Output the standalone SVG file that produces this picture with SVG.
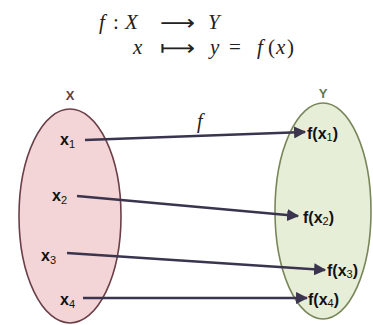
<svg xmlns="http://www.w3.org/2000/svg" width="373" height="325" viewBox="0 0 373 325">
<style>
.m{font-family:"Liberation Serif","DejaVu Serif",serif;font-size:21px;fill:#222}
.mi{font-style:italic}
.ar{font-family:"DejaVu Sans",sans-serif;font-size:21px;fill:#222}
.lb{font-family:"Liberation Sans","Open Sans",sans-serif;font-weight:bold;font-size:16px;fill:#111}
.sub{font-size:11px;font-weight:normal}
.conn{stroke:#3a344e;stroke-width:2.7;fill:none}
</style>
<defs>
<marker id="ah" viewBox="0 0 10 10" refX="9" refY="5" markerWidth="4.5" markerHeight="4.5" orient="auto" markerUnits="strokeWidth">
<path d="M0,0 L10,5 L0,10 Z" fill="#3a344e"/>
</marker>
</defs>
<rect width="373" height="325" fill="#fff"/>
<g id="formula">
<text class="m mi" x="99" y="29">f</text>
<text class="m" x="113" y="29">:</text>
<text class="m mi" x="125" y="29">X</text>
<text class="ar" x="160" y="30" textLength="35" lengthAdjust="spacingAndGlyphs">⟶</text>
<text class="m mi" x="208" y="29">Y</text>
<text class="m mi" x="133" y="54">x</text>
<text class="ar" x="160" y="55" textLength="35" lengthAdjust="spacingAndGlyphs">⟼</text>
<text class="m mi" x="210" y="54">y</text>
<text class="m" x="229" y="54">=</text>
<text class="m mi" x="257" y="54">f</text>
<text class="m" x="268" y="54">(</text>
<text class="m mi" x="276" y="54">x</text>
<text class="m" x="287" y="54">)</text>
</g>
<g id="setX">
<ellipse cx="70" cy="216" rx="51" ry="107" fill="#f3d5d7" stroke="#6b3f48" stroke-width="1.6"/>
<text x="70" y="100" text-anchor="middle" font-family="Liberation Sans, sans-serif" font-weight="bold" font-size="13" fill="#6e3b3b">X</text>
</g>
<g id="setY">
<ellipse cx="323" cy="211" rx="48" ry="108" fill="#e7eed7" stroke="#78875a" stroke-width="1.6"/>
<text x="323" y="98" text-anchor="middle" font-family="Liberation Sans, sans-serif" font-weight="bold" font-size="13" fill="#5f7a4e">Y</text>
</g>
<g id="x1"><text class="lb" x="60" y="145">x<tspan class="sub" dy="3">1</tspan></text></g>
<g id="x2"><text class="lb" x="52" y="201">x<tspan class="sub" dy="3">2</tspan></text></g>
<g id="x3"><text class="lb" x="41" y="261">x<tspan class="sub" dy="3">3</tspan></text></g>
<g id="x4"><text class="lb" x="60" y="305">x<tspan class="sub" dy="3">4</tspan></text></g>
<g id="fx1"><text class="lb" x="307" y="139">f(x<tspan class="sub" dy="2">1</tspan><tspan dy="-2">)</tspan></text></g>
<g id="fx2"><text class="lb" x="303" y="223">f(x<tspan class="sub" dy="2">2</tspan><tspan dy="-2">)</tspan></text></g>
<g id="fx3"><text class="lb" x="327" y="276">f(x<tspan class="sub" dy="2">3</tspan><tspan dy="-2">)</tspan></text></g>
<g id="fx4"><text class="lb" x="308" y="305">f(x<tspan class="sub" dy="2">4</tspan><tspan dy="-2">)</tspan></text></g>
<g id="connectors">
<line class="conn" x1="85" y1="140" x2="305" y2="132" marker-end="url(#ah)"/>
<line class="conn" x1="77" y1="196" x2="298" y2="216" marker-end="url(#ah)"/>
<line class="conn" x1="67" y1="253" x2="325" y2="270" marker-end="url(#ah)"/>
<line class="conn" x1="83" y1="298" x2="307" y2="298" marker-end="url(#ah)"/>
<text x="197" y="128" font-family="Liberation Serif, serif" font-style="italic" font-size="20" fill="#222">f</text>
</g>
</svg>
